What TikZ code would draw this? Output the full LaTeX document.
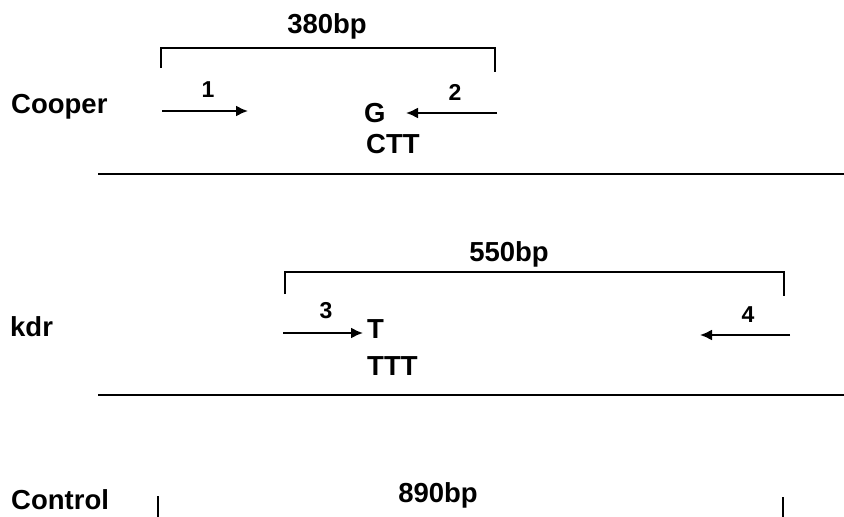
\documentclass[tikz,border=0pt]{standalone}
\usepackage{fontspec}
\setmainfont{Liberation Sans}
\usetikzlibrary{arrows.meta}
\tikzset{
  lab/.style={inner sep=0pt, font=\bfseries\fontsize{27.5}{32}\selectfont},
  num/.style={inner sep=0pt, font=\bfseries\fontsize{23}{27}\selectfont, anchor=base},
  ln/.style={line width=2.2pt},
  prim/.style={line width=1.9pt, -{Latex[length=12pt,width=11pt]}},
  brk/.style={line width=2pt},
}
\begin{document}
\begin{tikzpicture}[x=1pt,y=-1pt]
\useasboundingbox (0,0) rectangle (844,517);
% Cooper
\node[lab, anchor=base west] (cooper) at (11,113) {Cooper};
\node[lab, anchor=base] (bp380) at (327,33) {380bp};
\coordinate (b1l) at (161,68);
\coordinate (b1r) at (495,72);
\draw[brk] (b1l) |- (327,48) -| (b1r);
\node[num] (n1) at (208,97) {1};
\coordinate (a1s) at (162,111);
\coordinate (a1e) at (248,111);
\draw[prim] (a1s) -- (a1e);
\node[num] (n2) at (455,100) {2};
\coordinate (a2s) at (497,113);
\coordinate (a2e) at (406,113);
\draw[prim] (a2s) -- (a2e);
\node[lab, anchor=base west] (g) at (364,122) {G};
\node[lab, anchor=base west] (ctt) at (366,153) {CTT};
\coordinate (l1a) at (98,174);
\coordinate (l1b) at (844,174);
\draw[ln] (l1a) -- (l1b);
% kdr
\node[lab, anchor=base west] (kdr) at (10,336) {kdr};
\node[lab, anchor=base] (bp550) at (509,261) {550bp};
\coordinate (b2l) at (285,294);
\coordinate (b2r) at (784,296);
\draw[brk] (b2l) |- (535,272) -| (b2r);
\node[num] (n3) at (326,318) {3};
\coordinate (a3s) at (283,333);
\coordinate (a3e) at (363,333);
\draw[prim] (a3s) -- (a3e);
\node[lab, anchor=base west] (t) at (367,338) {T};
\node[lab, anchor=base west] (ttt) at (367,375) {TTT};
\node[num] (n4) at (748,322) {4};
\coordinate (a4s) at (790,335);
\coordinate (a4e) at (700,335);
\draw[prim] (a4s) -- (a4e);
\coordinate (l2a) at (98,395);
\coordinate (l2b) at (844,395);
\draw[ln] (l2a) -- (l2b);
% Control
\node[lab, anchor=base west] (control) at (11,509) {Control};
\node[lab, anchor=base] (bp890) at (438,502) {890bp};
\coordinate (t1a) at (158,496);
\coordinate (t1b) at (158,517);
\draw[ln] (t1a) -- (t1b);
\coordinate (t2a) at (783,497);
\coordinate (t2b) at (783,517);
\draw[ln] (t2a) -- (t2b);
\end{tikzpicture}
\end{document}
